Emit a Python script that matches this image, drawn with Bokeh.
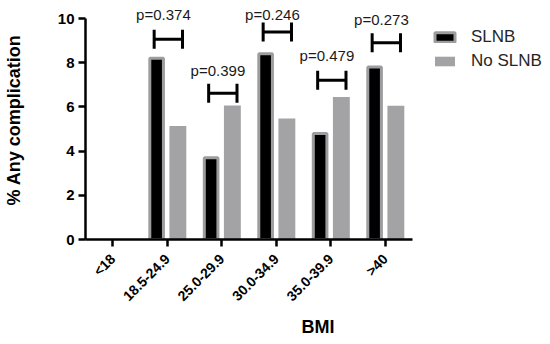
import math
from bokeh.plotting import figure
from bokeh.models import Range1d, FixedTicker, Legend, LegendItem
from bokeh.core.properties import value
from bokeh.embed import file_html
from bokeh.resources import INLINE

# ---- data ----
categories = ["<18", "18.5-24.9", "25.0-29.9", "30.0-34.9", "35.0-39.9", ">40"]
slnb = [None, 8.2, 3.7, 8.4, 4.8, 7.8]
no_slnb = [None, 5.14, 6.06, 5.47, 6.45, 6.05]
p_labels = [None, "p=0.374", "p=0.399", "p=0.246", "p=0.479", "p=0.273"]
bracket_y = [None, 9.06, 6.62, 9.39, 7.21, 8.9]
p_label_y = [None, 10.19, 7.65, 10.16, 8.34, 9.97]
y_ticks = [0, 2, 4, 6, 8, 10]

FONT = "Liberation Sans"
W, H = 550, 344
LEFT, BOTTOM = 79, 105
px_per_x = 55.2
px_per_y = 22.1
x_end = -0.5 + (W - LEFT) / px_per_x
y_end = (H - BOTTOM) / px_per_y

p = figure(width=W, height=H, output_backend="svg", toolbar_location=None,
           x_range=Range1d(-0.5, x_end), y_range=Range1d(0, y_end),
           min_border_left=LEFT, min_border_bottom=BOTTOM,
           min_border_top=0, min_border_right=0)
p.outline_line_color = None
p.xgrid.visible = False
p.ygrid.visible = False
p.background_fill_color = "white"
p.border_fill_color = "white"

idx = [i for i in range(len(categories)) if slnb[i] is not None]
GAP = 0.195

r1 = p.vbar(x=[i - GAP for i in idx], top=[slnb[i] for i in idx], bottom=0,
            width=0.25, fill_color="black", line_color="#9d9d9f", line_width=3)
r2 = p.vbar(x=[i + GAP for i in idx], top=[no_slnb[i] for i in idx], bottom=0,
            width=0.31, fill_color="#a3a3a6", line_color=None)

# significance brackets
x0s, y0s, x1s, y1s = [], [], [], []
L, R, CAP = -0.24, 0.28, 0.43
for i in idx:
    y = bracket_y[i]
    x0s += [i + L, i + L, i + R]
    x1s += [i + R, i + L, i + R]
    y0s += [y, y - CAP, y - CAP]
    y1s += [y, y + CAP, y + CAP]
p.segment(x0=x0s, y0=y0s, x1=x1s, y1=y1s, line_color="black", line_width=3)

p.text(x=[i - 0.07 for i in idx], y=[p_label_y[i] for i in idx],
       text=[p_labels[i] for i in idx], text_align="center", text_baseline="middle",
       text_font=value(FONT), text_font_size="15px", text_color="#1a1a1a")

# axes
xa = p.xaxis[0]
xa.ticker = FixedTicker(ticks=list(range(len(categories))))
xa.major_label_overrides = {i: c for i, c in enumerate(categories)}
xa.bounds = (-0.5, 5.5)
xa.major_label_orientation = math.pi / 4
xa.major_label_standoff = 10
xa.axis_label = "BMI"
xa.axis_label_standoff = 4

ya = p.yaxis[0]
ya.ticker = FixedTicker(ticks=y_ticks)
ya.bounds = (0, 10)
ya.axis_label = "% Any complication"
ya.axis_label_standoff = 31
ya.major_label_standoff = 4

for ax in (xa, ya):
    ax.axis_line_width = 2.5
    ax.axis_line_color = "black"
    ax.major_tick_line_width = 2.5
    ax.major_tick_line_color = "black"
    ax.major_tick_out = 7
    ax.major_tick_in = 0
    ax.minor_tick_line_color = None
    ax.major_label_text_font = FONT
    ax.major_label_text_font_style = "bold"
    ax.major_label_text_font_size = "15px"
    ax.major_label_text_color = "black"
    ax.axis_label_text_font = FONT
    ax.axis_label_text_font_style = "bold"
    ax.axis_label_text_font_size = "18px"
    ax.axis_label_text_color = "black"
xa.major_label_text_font_size = "14px"

legend = Legend(items=[LegendItem(label="SLNB", renderers=[r1]),
                       LegendItem(label="No SLNB", renderers=[r2])],
                location=(347, 168), orientation="vertical",
                glyph_width=25, glyph_height=12, label_standoff=14, spacing=4,
                padding=0, margin=0, label_height=20,
                border_line_color=None, background_fill_alpha=0,
                label_text_font=FONT, label_text_font_size="17px",
                label_text_color="#262626")
p.add_layout(legend)

open("out.html", "w").write(file_html(p, INLINE))
